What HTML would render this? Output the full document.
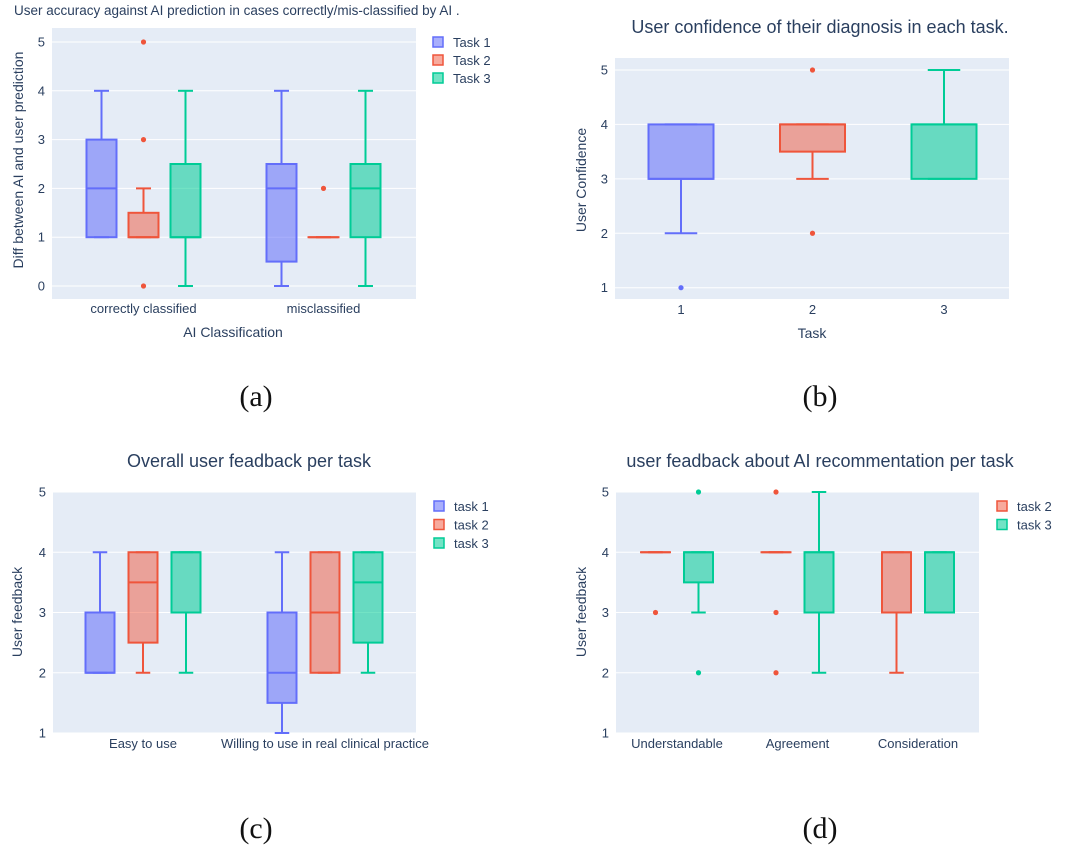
<!DOCTYPE html>
<html><head><meta charset="utf-8">
<style>
html,body{margin:0;padding:0;background:#fff;}
svg{display:block;font-family:"Liberation Sans","DejaVu Sans",sans-serif;}
</style></head>
<body>
<svg id="s" width="1080" height="854" viewBox="0 0 1080 854"></svg>
<script>
// ---- Data (five-number summaries: low, q1, median, q3, high) ----
const aCategories = ["correctly classified", "misclassified"];
const aTask1 = [[1,1,2,3,4],[0,0.5,2,2.5,4]];
const aTask2 = [[1,1,1,1.5,2],[1,1,1,1,1]];
const aTask3 = [[0,1,1,2.5,4],[0,1,2,2.5,4]];
const aOut1 = [[],[]];
const aOut2 = [[0,3,5],[2]];
const aOut3 = [[],[]];
const aYTicks = [0,1,2,3,4,5];

const bCategories = ["1","2","3"];
const bTask = [[2,3,3,4,4],[3,3.5,4,4,4],[3,3,4,4,5]];
const bOut = [[1],[2,5],[]];
const bYTicks = [1,2,3,4,5];

const cCategories = ["Easy to use","Willing to use in real clinical practice"];
const cTask1 = [[2,2,2,3,4],[1,1.5,2,3,4]];
const cTask2 = [[2,2.5,3.5,4,4],[2,2,3,4,4]];
const cTask3 = [[2,3,4,4,4],[2,2.5,3.5,4,4]];
const cYTicks = [1,2,3,4,5];

const dCategories = ["Understandable","Agreement","Consideration"];
const dTask2 = [[4,4,4,4,4],[4,4,4,4,4],[2,3,4,4,4]];
const dTask3 = [[3,3.5,4,4,4],[2,3,4,4,5],[3,3,4,4,4]];
const dOut2 = [[3],[2,3,5],[]];
const dOut3 = [[2,5],[],[]];
const dYTicks = [1,2,3,4,5];

const COL = {blue:"#636efa", red:"#ef553b", green:"#00cc96"};
const FILL = {blue:"rgba(99,110,250,0.55)", red:"rgba(239,85,59,0.5)", green:"rgba(0,204,150,0.55)"};
const svg = document.getElementById('s');
const NS = "http://www.w3.org/2000/svg";
function mk(tag, attrs, parent, text){
  const e = document.createElementNS(NS, tag);
  for (const k in attrs) e.setAttribute(k, attrs[k]);
  if (text !== undefined) e.textContent = text;
  (parent||svg).appendChild(e);
  return e;
}

function panel(cfg){
  const g = mk('g', {});
  
  
  const y = v => cfg.y0 + (v - cfg.vmin) * (cfg.y1 - cfg.y0) / (cfg.vmax - cfg.vmin);
  const bg = mk('rect', {x:cfg.px0, y:cfg.py0, width:cfg.px1-cfg.px0, height:cfg.py1-cfg.py0, fill:"#e5ecf6"}, g);
  
  
  cfg.yTicks.forEach(t => {
    const gl = mk('line', {x1:cfg.px0, x2:cfg.px1, y1:y(t), y2:y(t), stroke:"#fff", "stroke-width":1}, g);
    
    
    const tl = mk('text', {x:cfg.px0-7, y:y(t)+4.5, "text-anchor":"end", "font-size":13, fill:"#2a3f5f"}, g, String(t));
    
    
  });
  cfg.categories.forEach((c, i) => {
    const xl = mk('text', {x:cfg.catX(i), y:cfg.xLabelY, "text-anchor":"middle", "font-size":13, fill:"#2a3f5f"}, g, c);
    
    
  });
  cfg.series.forEach(s => {
    s.data.forEach((d, i) => {
      const cx = cfg.catX(i) + s.off;
      const w = cfg.bw, col = COL[s.color];
      const bg2 = mk('g', {}, g);
      
      
      const [lo, q1, md, q3, hi] = d;
      mk('line', {x1:cx, x2:cx, y1:y(lo), y2:y(q1), stroke:col, "stroke-width":2}, bg2);
      mk('line', {x1:cx, x2:cx, y1:y(q3), y2:y(hi), stroke:col, "stroke-width":2}, bg2);
      mk('line', {x1:cx-w/4, x2:cx+w/4, y1:y(lo), y2:y(lo), stroke:col, "stroke-width":2}, bg2);
      mk('line', {x1:cx-w/4, x2:cx+w/4, y1:y(hi), y2:y(hi), stroke:col, "stroke-width":2}, bg2);
      mk('rect', {x:cx-w/2, y:y(q3), width:w, height:Math.max(0.01, y(q1)-y(q3)), fill:FILL[s.color], stroke:col, "stroke-width":2}, bg2);
      mk('line', {x1:cx-w/2, x2:cx+w/2, y1:y(md), y2:y(md), stroke:col, "stroke-width":2}, bg2);
      (s.out ? s.out[i] : []).forEach(o => {
        const p = mk('circle', {cx:cx, cy:y(o), r:2.6, fill:col}, g);
        
        
      });
    });
  });
  if (cfg.legend) cfg.series.forEach((s, k) => {
    const ly = cfg.legend.y + k * cfg.legend.dy;
    const lg = mk('g', {}, g);
    
    
    mk('rect', {x:cfg.legend.x, y:ly-5, width:10, height:10, fill:FILL[s.color], stroke:col2(s), "stroke-width":1.5}, lg);
    mk('text', {x:cfg.legend.x+20, y:ly+5, "font-size":13, fill:"#2a3f5f"}, lg, s.label);
  });
  function col2(s){return COL[s.color];}
  const t = mk('text', {x:cfg.title.x, y:cfg.title.y, "text-anchor":cfg.title.anchor, "font-size":cfg.title.size, fill:"#2a3f5f"}, g, cfg.title.text);
  
  
  const yt = mk('text', {x:0, y:0, "text-anchor":"middle", "font-size":14, fill:"#2a3f5f", transform:`translate(${cfg.yTitle.x},${cfg.yTitle.y}) rotate(-90)`}, g, cfg.yTitle.text);
  
  
  if (cfg.xTitle) {
    const xt = mk('text', {x:cfg.xTitle.x, y:cfg.xTitle.y, "text-anchor":"middle", "font-size":14, fill:"#2a3f5f"}, g, cfg.xTitle.text);
    
    
  }
  const sub = mk('text', {x:cfg.sub.x, y:cfg.sub.y, "text-anchor":"middle", "font-size":30, fill:"#111", "font-family":"Liberation Serif, serif"}, g, cfg.sub.text);
  
  
}

panel({name:"chart-a", px0:52, px1:416, py0:28, py1:299, vmin:0, vmax:5, y0:286, y1:42,
  yTicks:aYTicks, categories:aCategories, catX:i=>143.5+i*180, xLabelY:313, bw:30,
  series:[{label:"Task 1",color:"blue",off:-42,data:aTask1,out:aOut1},
          {label:"Task 2",color:"red",off:0,data:aTask2,out:aOut2},
          {label:"Task 3",color:"green",off:42,data:aTask3,out:aOut3}],
  legend:{x:433,y:42,dy:18},
  title:{x:14,y:15,anchor:"start",size:13.5,text:"User accuracy against AI prediction in cases correctly/mis-classified by AI ."},
  yTitle:{x:23,y:160,text:"Diff between AI and user prediction"},
  xTitle:{x:233,y:337,text:"AI Classification"},
  sub:{x:256,y:406,text:"(a)"}});

panel({name:"chart-b", px0:615, px1:1009, py0:58, py1:299, vmin:1, vmax:5, y0:287.7, y1:70,
  yTicks:bYTicks, categories:bCategories, catX:i=>681+i*131.5, xLabelY:314, bw:65,
  series:[{label:"1",color:"blue",off:0,data:[bTask[0],null,null].filter(Boolean),out:[bOut[0]]}],
  title:{x:820,y:33,anchor:"middle",size:18,text:"User confidence of their diagnosis in each task."},
  yTitle:{x:586,y:180,text:"User Confidence"},
  xTitle:{x:812,y:338,text:"Task"},
  sub:{x:820,y:406,text:"(b)"}});
// tasks 2 and 3 for chart b drawn as separate series positioned at their categories
(function(){
  const g = svg.lastChild;
  const y = v => 287.7 + (v-1)*(70-287.7)/4;
  [["red",1],["green",2]].forEach(([c,i])=>{
    const cx = 681+i*131.5, w=65, col=COL[c];
    const bx = mk('g', {}, g);
    
    
    const [lo,q1,md,q3,hi] = bTask[i];
    mk('line',{x1:cx,x2:cx,y1:y(lo),y2:y(q1),stroke:col,"stroke-width":2},bx);
    mk('line',{x1:cx,x2:cx,y1:y(q3),y2:y(hi),stroke:col,"stroke-width":2},bx);
    mk('line',{x1:cx-w/4,x2:cx+w/4,y1:y(lo),y2:y(lo),stroke:col,"stroke-width":2},bx);
    mk('line',{x1:cx-w/4,x2:cx+w/4,y1:y(hi),y2:y(hi),stroke:col,"stroke-width":2},bx);
    mk('rect',{x:cx-w/2,y:y(q3),width:w,height:Math.max(0.01,y(q1)-y(q3)),fill:FILL[c],stroke:col,"stroke-width":2},bx);
    mk('line',{x1:cx-w/2,x2:cx+w/2,y1:y(md),y2:y(md),stroke:col,"stroke-width":2},bx);
    bOut[i].forEach(o=>{
      const p = mk('circle',{cx:cx,cy:y(o),r:2.6,fill:col},g);
      
      
    });
  });
})();

panel({name:"chart-c", px0:53, px1:416, py0:492, py1:733, vmin:1, vmax:5, y0:733, y1:492,
  yTicks:cYTicks, categories:cCategories, catX:i=>143+i*182, xLabelY:748, bw:29,
  series:[{label:"task 1",color:"blue",off:-43,data:cTask1},
          {label:"task 2",color:"red",off:0,data:cTask2},
          {label:"task 3",color:"green",off:43,data:cTask3}],
  legend:{x:434,y:506,dy:18.5},
  title:{x:249,y:467,anchor:"middle",size:18,text:"Overall user feadback per task"},
  yTitle:{x:22,y:612,text:"User feedback"},
  sub:{x:256,y:838,text:"(c)"}});

panel({name:"chart-d", px0:616, px1:979, py0:492, py1:733, vmin:1, vmax:5, y0:733, y1:492,
  yTicks:dYTicks, categories:dCategories, catX:i=>677+i*120.5, xLabelY:748, bw:29,
  series:[{label:"task 2",color:"red",off:-21.5,data:dTask2,out:dOut2},
          {label:"task 3",color:"green",off:21.5,data:dTask3,out:dOut3}],
  legend:{x:997,y:506,dy:18.5},
  title:{x:820,y:467,anchor:"middle",size:18,text:"user feadback about AI recommentation per task"},
  yTitle:{x:586,y:612,text:"User feedback"},
  sub:{x:820,y:838,text:"(d)"}});
</script>
</body></html>
